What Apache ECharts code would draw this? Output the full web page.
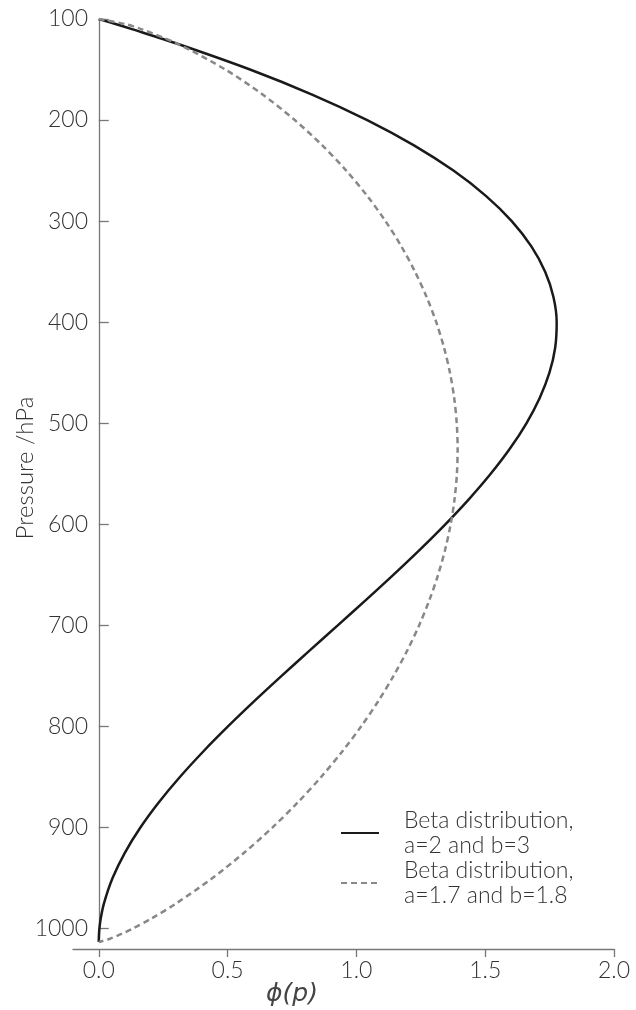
<!DOCTYPE html>
<html>
<head>
<meta charset="utf-8">
<script src="https://cdn.jsdelivr.net/npm/echarts@6/dist/echarts.min.js"></script>
<style>
  html, body { margin: 0; padding: 0; background: #fff; }
  #chart { width: 636px; height: 1010px; }
</style>
</head>
<body>
<div id="chart"></div>
<script>
// Vertical profiles of the two beta-shaped weighting functions
const pressure = [100, 105, 110, 125, 150, 175, 200, 225, 250, 275, 300, 325, 350, 375, 400,
                  425, 450, 475, 500, 525, 550, 575, 600, 625, 650, 675, 700, 725, 750, 775,
                  800, 825, 850, 875, 900, 925, 950, 975, 990, 1000, 1005, 1010, 1013.25];
const phiA2B3 = [0, 0.0650, 0.1285, 0.3108, 0.5870, 0.8303, 1.0420, 1.2236, 1.3767, 1.5026,
                 1.6030, 1.6792, 1.7327, 1.7649, 1.7775, 1.7718, 1.7494, 1.7116, 1.6601, 1.5962,
                 1.5214, 1.4373, 1.3453, 1.2468, 1.1434, 1.0365, 0.9276, 0.8181, 0.7097, 0.6036,
                 0.5015, 0.4048, 0.3149, 0.2334, 0.1616, 0.1012, 0.0536, 0.0202, 0.0076, 0.0025,
                 0.0010, 0.0002, 0];
const phiA17B18 = [0, 0.1021, 0.1651, 0.3094, 0.4913, 0.6375, 0.7609, 0.8677, 0.9607, 1.0420,
                   1.1130, 1.1747, 1.2276, 1.2726, 1.3100, 1.3401, 1.3633, 1.3797, 1.3896, 1.3930,
                   1.3902, 1.3811, 1.3660, 1.3445, 1.3171, 1.2833, 1.2434, 1.1971, 1.1442, 1.0847,
                   1.0182, 0.9444, 0.8630, 0.7731, 0.6738, 0.5640, 0.4412, 0.3010, 0.2045, 0.1315,
                   0.0904, 0.0431, 0];
const xTicks = [0, 0.5, 1.0, 1.5, 2.0];
const yTicks = [100, 200, 300, 400, 500, 600, 700, 800, 900, 1000];
const seriesNames = ['Beta distribution,\na=2 and b=3', 'Beta distribution,\na=1.7 and b=1.8'];

const FONT = 'Lato, "Open Sans", sans-serif';
const TEXT = '#333333';
const AXIS = '#777777';

const pairs = (xs) => xs.map((v, i) => [v, pressure[i]]);

const chart = echarts.init(document.getElementById('chart'), null, { renderer: 'canvas' });
chart.setOption({
  animation: false,
  backgroundColor: '#ffffff',
  grid: { left: 73, right: 22, top: 19, bottom: 68, containLabel: false },
  xAxis: {
    type: 'value',
    min: -0.1,
    max: 2.0,
    offset: 7,
    axisLine: { onZero: false, lineStyle: { color: AXIS, width: 1.3 } },
    axisTick: { show: true, inside: false, length: 8, customValues: xTicks,
                lineStyle: { color: AXIS, width: 1.3 } },
    axisLabel: { customValues: xTicks, margin: 10, color: TEXT, fontFamily: FONT,
                 fontWeight: 300, fontSize: 23, formatter: (v) => v.toFixed(1) },
    splitLine: { show: false }
  },
  yAxis: {
    type: 'value',
    inverse: true,
    min: 100,
    max: 1013.25,
    axisLine: { onZero: true, lineStyle: { color: AXIS, width: 1.3 } },
    axisTick: { show: true, inside: true, length: 10, customValues: yTicks,
                lineStyle: { color: AXIS, width: 1.3 } },
    // labels stay anchored to the grid edge, so pull them toward the spine at x = 0
    axisLabel: { customValues: yTicks, margin: -15, color: TEXT, fontFamily: FONT,
                 fontWeight: 300, fontSize: 23, formatter: (v) => String(v) },
    splitLine: { show: false }
  },
  legend: {
    orient: 'vertical',
    left: 340,
    top: 808,
    padding: 0,
    itemGap: 0,
    itemWidth: 38,
    itemHeight: 1,
    itemStyle: { opacity: 0 },
    textStyle: { color: TEXT, fontFamily: FONT, fontWeight: 300, fontSize: 23, lineHeight: 25,
                 padding: [0, 0, 0, 20] },
    data: seriesNames
  },
  graphic: [
    {
      type: 'text', x: 25, y: 468, rotation: Math.PI / 2,
      style: { text: 'Pressure /hPa', align: 'center', verticalAlign: 'middle',
               font: '300 24px ' + FONT, fill: TEXT }
    },
    {
      type: 'text', x: 292, y: 994,
      style: { text: 'ϕ(p)', align: 'center', verticalAlign: 'middle',
               font: 'italic 25px "DejaVu Sans", sans-serif', fill: '#444444' }
    }
  ],
  series: [
    {
      name: seriesNames[0], type: 'line', data: pairs(phiA2B3),
      symbol: 'none', smooth: 0.3,
      lineStyle: { color: '#1a1a1a', width: 2.5 },
      itemStyle: { color: '#1a1a1a' }
    },
    {
      name: seriesNames[1], type: 'line', data: pairs(phiA17B18),
      symbol: 'none', smooth: 0.3,
      lineStyle: { color: '#888888', width: 2.5, type: [6, 4] },
      itemStyle: { color: '#888888' }
    }
  ]
});
</script>
</body>
</html>
